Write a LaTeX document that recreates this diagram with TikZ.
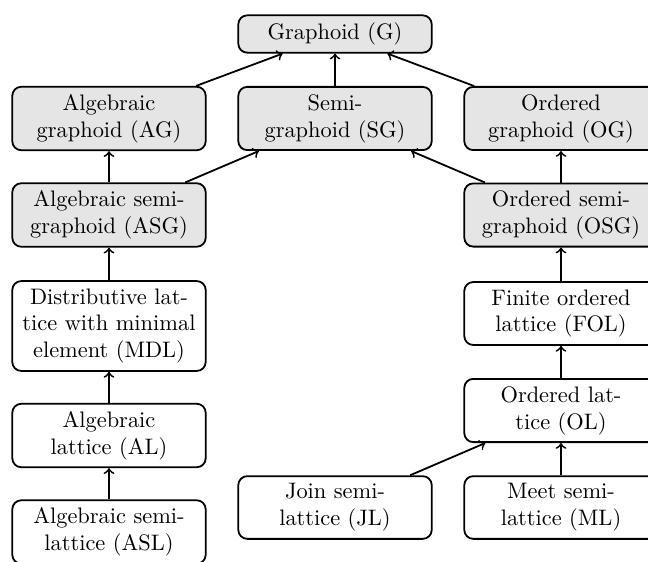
\documentclass[tikz,border=0pt]{standalone}
\begin{document}
\begin{tikzpicture}[x=0.4464pt,y=-0.4464pt,
  box/.style={draw, thick, rounded corners=4pt, text width=2.8cm, align=center, fill=white},
  gbox/.style={box, fill=gray!20},
  link/.style={->, thick}]
\useasboundingbox (0,0) rectangle (648,561);
\node[gbox] (G) at (335,34) {Graphoid (G)};
\node[gbox] (AG) at (109,118.5) {Algebraic graphoid (AG)};
\node[gbox] (SG) at (335,118.5) {Semi-\\graphoid (SG)};
\node[gbox] (OG) at (561,118.5) {Ordered graphoid (OG)};
\node[gbox] (ASG) at (109,215) {Algebraic semi-\\graphoid (ASG)};
\node[gbox] (OSG) at (561,215) {Ordered semi-\\graphoid (OSG)};
\node[box] (MDL) at (109,326) {Distributive lat-\\tice with minimal\\element (MDL)};
\node[box] (AL) at (109,435.5) {Algebraic\\lattice (AL)};
\node[box] (ASL) at (109,532) {Algebraic semi-\\lattice (ASL)};
\node[box] (FOL) at (561,313.5) {Finite ordered\\lattice (FOL)};
\node[box] (OL) at (561,410.5) {Ordered lat-\\tice (OL)};
\node[box] (JL) at (335,507.5) {Join semi-\\lattice (JL)};
\node[box] (ML) at (561,507.5) {Meet semi-\\lattice (ML)};
\draw[link] (AG) -- (G);
\draw[link] (SG) -- (G);
\draw[link] (OG) -- (G);
\draw[link] (ASG) -- (AG);
\draw[link] (ASG) -- (SG);
\draw[link] (OSG) -- (SG);
\draw[link] (OSG) -- (OG);
\draw[link] (MDL) -- (ASG);
\draw[link] (AL) -- (MDL);
\draw[link] (ASL) -- (AL);
\draw[link] (FOL) -- (OSG);
\draw[link] (OL) -- (FOL);
\draw[link] (JL) -- (OL);
\draw[link] (ML) -- (OL);
\end{tikzpicture}
\end{document}
